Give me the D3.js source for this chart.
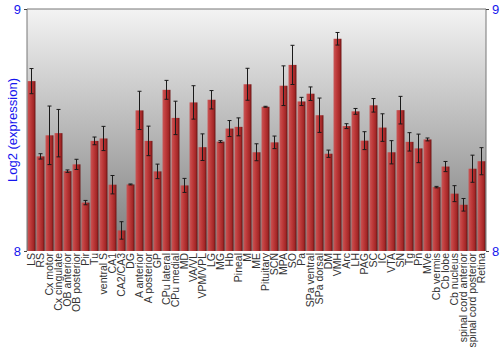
<!DOCTYPE html>
<html>
<head>
<meta charset="utf-8">
<script src="https://cdn.jsdelivr.net/npm/d3@7"></script>
<style>
  body { margin: 0; background: #fff; }
  svg { font-family: "Liberation Sans", Arial, sans-serif; }
</style>
</head>
<body>
<svg width="500" height="350"></svg>
<script>
// regions (x categories)
var regions = ["LS", "RS", "Cx motor", "Cx cingulate", "OB anterior", "OB posterior", "Pir", "Tu",
  "ventral S", "CA1", "CA2/CA3", "DG", "A anterior", "A posterior", "GP", "CPu lateral", "CPu medial",
  "MD", "VA/VL", "VPM/VPL", "LG", "MG", "Hb", "Pineal", "M", "ME", "Pituitary", "SCN", "MPA", "SO",
  "Pa", "SPa ventral", "SPa dorsal", "DM", "VMH", "Arc", "LH", "PAG", "SC", "IC", "VTA", "SN", "Tg",
  "Pn", "MVe", "Cb vermis", "Cb lobe", "Cb nucleus", "spinal cord anterior", "spinal cord posterior", "Retina"];

// mean log2 expression
var means = [8.702, 8.391, 8.478, 8.487, 8.330, 8.358, 8.200, 8.455, 8.465, 8.274, 8.085, 8.275,
  8.581, 8.455, 8.329, 8.666, 8.550, 8.271, 8.614, 8.429, 8.625, 8.452, 8.506, 8.513, 8.689, 8.408,
  8.596, 8.449, 8.683, 8.769, 8.618, 8.650, 8.561, 8.402, 8.877, 8.516, 8.577, 8.456, 8.602, 8.510,
  8.408, 8.582, 8.451, 8.424, 8.461, 8.264, 8.349, 8.237, 8.191, 8.340, 8.371];

// error (half-length of the whisker)
var errs = [0.052, 0.011, 0.121, 0.098, 0.005, 0.021, 0.009, 0.016, 0.050, 0.038, 0.036, 0.002,
  0.079, 0.061, 0.030, 0.039, 0.069, 0.029, 0.069, 0.055, 0.038, 0.004, 0.033, 0.037, 0.066, 0.035,
  0.002, 0.026, 0.082, 0.081, 0.017, 0.028, 0.071, 0.015, 0.026, 0.010, 0.012, 0.037, 0.028, 0.057,
  0.048, 0.057, 0.038, 0.059, 0.006, 0.003, 0.021, 0.033, 0.026, 0.056, 0.056];

var yTicks = [8, 9];

var svg = d3.select("svg"),
    mLeft = 27, mRight = 486, mTop = 9, mBottom = 251;

var x = d3.scaleBand().domain(regions).range([mLeft, mRight]).paddingInner(0.12).paddingOuter(0.06);
var y = d3.scaleLinear().domain([8, 9]).range([mBottom, mTop]);

var defs = svg.append("defs");

// background fade, light at the top, grey at the bottom
var bg = defs.append("linearGradient").attr("id", "bgGrad")
    .attr("x1", 0).attr("y1", 0).attr("x2", 0).attr("y2", 1);
bg.append("stop").attr("offset", "0%").attr("stop-color", "#f3f3f3");
bg.append("stop").attr("offset", "100%").attr("stop-color", "#7c7c7c");

// bars: lit on the left, shaded on the right
var bar = defs.append("linearGradient").attr("id", "barGrad")
    .attr("x1", 0).attr("y1", 0).attr("x2", 1).attr("y2", 0);
bar.append("stop").attr("offset", "0%").attr("stop-color", "#c85656");
bar.append("stop").attr("offset", "35%").attr("stop-color", "#c03c3c");
bar.append("stop").attr("offset", "75%").attr("stop-color", "#a52828");
bar.append("stop").attr("offset", "100%").attr("stop-color", "#6a1212");

svg.append("rect")
    .attr("x", mLeft).attr("y", mTop)
    .attr("width", mRight - mLeft).attr("height", mBottom - mTop)
    .attr("fill", "url(#bgGrad)");

var g = svg.append("g");

g.selectAll(".bar")
  .data(regions)
  .enter().append("rect")
    .attr("class", "bar")
    .attr("x", function(d) { return x(d); })
    .attr("width", x.bandwidth())
    .attr("y", function(d, i) { return y(means[i]); })
    .attr("height", function(d, i) { return y(8) - y(means[i]); })
    .attr("fill", "url(#barGrad)");

// error bars
var eb = g.selectAll(".err")
  .data(regions)
  .enter().append("g")
    .attr("class", "err")
    .attr("stroke", "#1a1a1a")
    .attr("stroke-width", 1);

eb.append("line")
    .attr("x1", function(d) { return x(d) + x.bandwidth() / 2; })
    .attr("x2", function(d) { return x(d) + x.bandwidth() / 2; })
    .attr("y1", function(d, i) { return y(means[i] + errs[i]); })
    .attr("y2", function(d, i) { return y(means[i] - errs[i]); });

[1, -1].forEach(function(s) {
  eb.append("line")
      .attr("x1", function(d) { return x(d) + x.bandwidth() / 2 - 2; })
      .attr("x2", function(d) { return x(d) + x.bandwidth() / 2 + 2; })
      .attr("y1", function(d, i) { return y(means[i] + s * errs[i]); })
      .attr("y2", function(d, i) { return y(means[i] + s * errs[i]); });
});

// frame: top, left and right lines
svg.append("path")
    .attr("d", "M" + mLeft + "," + mBottom + "V" + mTop + "H" + mRight + "V" + mBottom)
    .attr("fill", "none").attr("stroke", "#777").attr("stroke-width", 1);

// y axes on both sides
var yl = svg.append("g")
    .attr("transform", "translate(" + mLeft + ",0)")
    .call(d3.axisLeft(y).tickValues(yTicks).tickFormat(d3.format("d")).tickSize(3));
var yr = svg.append("g")
    .attr("transform", "translate(" + mRight + ",0)")
    .call(d3.axisRight(y).tickValues(yTicks).tickFormat(d3.format("d")).tickSize(3));
[yl, yr].forEach(function(ax) {
  ax.select(".domain").remove();
  ax.selectAll("line").attr("stroke", "#444");
  ax.selectAll("text").attr("fill", "#1515ee").style("font-size", "13px")
    .style("font-family", "Liberation Sans, Arial, sans-serif");
});

// x labels, rotated
svg.append("g").selectAll("text")
  .data(regions)
  .enter().append("text")
    .attr("transform", function(d) {
      return "translate(" + (x(d) + x.bandwidth() / 2) + "," + (mBottom + 2) + ")rotate(-90)";
    })
    .attr("dy", "0.36em")
    .attr("text-anchor", "end")
    .attr("fill", "#333")
    .style("font-size", "10.5px")
    .text(function(d) { return d; });

svg.append("text")
    .attr("transform", "translate(12," + ((mTop + mBottom) / 2) + ")rotate(-90)")
    .attr("dy", "0.35em")
    .attr("text-anchor", "middle")
    .attr("fill", "#1515ee")
    .style("font-size", "13px")
    .text("Log2 (expression)");
</script>
</body>
</html>
